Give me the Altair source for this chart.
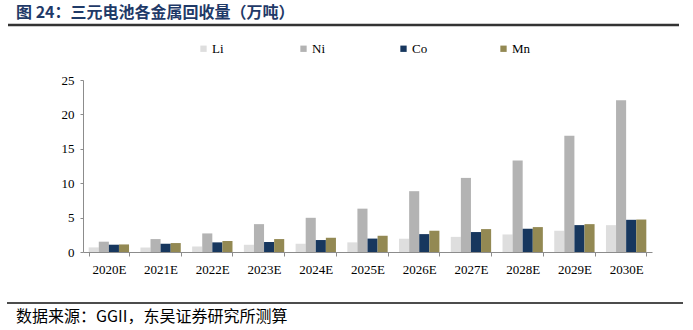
import altair as alt
import pandas as pd

years = ["2020E", "2021E", "2022E", "2023E", "2024E", "2025E",
         "2026E", "2027E", "2028E", "2029E", "2030E"]
metals = ["Li", "Ni", "Co", "Mn"]
li = [0.67, 0.65, 0.8, 1.05, 1.2, 1.4, 1.93, 2.2, 2.55, 3.09, 3.9]
ni = [1.5, 1.88, 2.7, 4.05, 4.97, 6.3, 8.84, 10.77, 13.3, 16.9, 22.07]
co = [1.06, 1.2, 1.4, 1.45, 1.74, 1.95, 2.6, 2.9, 3.38, 3.91, 4.68]
mn = [1.1, 1.3, 1.6, 1.88, 2.07, 2.36, 3.09, 3.33, 3.62, 4.05, 4.72]
colors = ["#dedede", "#b3b3b3", "#17375e", "#938953"]
y_ticks = [0, 5, 10, 15, 20, 25]

title_text = "图 24：三元电池各金属回收量（万吨）"
source_text = "数据来源：GGII，东吴证券研究所测算"

rows = []
for series, vals in zip(metals, [li, ni, co, mn]):
    for yr, v in zip(years, vals):
        rows.append({"year": yr, "metal": series, "value": v})
df = pd.DataFrame(rows)

W, H = 569, 172
PL, PT = 83, 80

bars = alt.Chart(df).mark_bar().encode(
    x=alt.X("year:N", sort=years,
            scale=alt.Scale(paddingInner=0.22, paddingOuter=0.11),
            axis=alt.Axis(title=None, labelAngle=0, labelFont="Liberation Serif",
                          labelFontSize=13, labelColor="#000", labelPadding=7,
                          domainColor="#8c8c8c", tickColor="#8c8c8c", tickSize=4,
                          tickBand="extent")),
    xOffset=alt.XOffset("metal:N", sort=metals),
    y=alt.Y("value:Q", scale=alt.Scale(domain=[0, 25], nice=False),
            axis=alt.Axis(title=None, values=y_ticks, grid=False,
                          labelFont="Liberation Serif", labelFontSize=13,
                          labelColor="#000", labelPadding=6,
                          domainColor="#8c8c8c", tickColor="#8c8c8c", tickSize=3)),
    color=alt.Color("metal:N", sort=metals,
                    scale=alt.Scale(domain=metals, range=colors),
                    legend=alt.Legend(title=None, orient="none", direction="horizontal",
                                      legendX=114, legendY=-38, columns=4,
                                      gridAlign="all", columnPadding=66,
                                      symbolType="square", symbolSize=40,
                                      symbolStrokeWidth=0, labelFont="Liberation Serif",
                                      labelFontSize=13, labelColor="#000",
                                      labelOffset=2, padding=0)),
)

title = alt.Chart(pd.DataFrame({"t": [title_text]})).mark_text(
    align="left", baseline="alphabetic", font="Noto Sans CJK SC",
    fontWeight="bold", fontSize=16, color="#1f3a68"
).encode(x=alt.value(16 - PL), y=alt.value(18 - PT), text="t:N")

top_line = alt.Chart(pd.DataFrame({"a": [0]})).mark_rule(
    color="#333333", strokeWidth=2.5
).encode(x=alt.value(8 - PL), x2=alt.value(679 - PL), y=alt.value(25 - PT))

bottom_line = alt.Chart(pd.DataFrame({"a": [0]})).mark_rule(
    color="#111111", strokeWidth=1.5
).encode(x=alt.value(7 - PL), x2=alt.value(683 - PL), y=alt.value(303 - PT))

source = alt.Chart(pd.DataFrame({"t": [source_text]})).mark_text(
    align="left", baseline="alphabetic", font="Noto Sans CJK SC",
    fontSize=16, color="#000"
).encode(x=alt.value(16 - PL), y=alt.value(322 - PT), text="t:N")

chart = alt.layer(bars, title, top_line, bottom_line, source).properties(
    width=W, height=H,
    autosize=alt.AutoSizeParams(type="none"),
    padding={"left": PL, "top": PT, "right": 693 - PL - W, "bottom": 330 - PT - H},
).configure_view(stroke=None)

chart.save("out.html", embed_options={"renderer": "svg", "actions": False})
